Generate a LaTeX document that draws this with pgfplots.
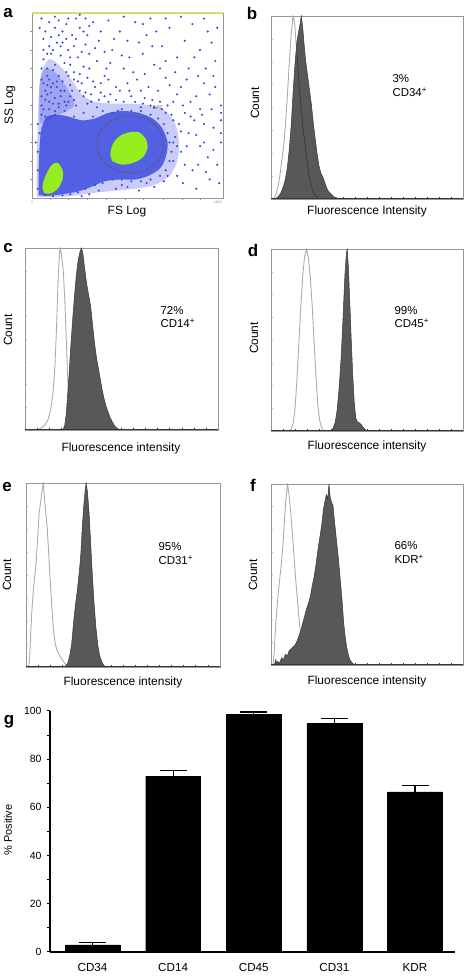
\documentclass[border=0pt]{standalone}
\usepackage{pgfplots}
\pgfplotsset{compat=1.18}
\usepackage{fontspec}
\setmainfont{Liberation Sans}
\definecolor{histfill}{RGB}{88,88,88}
\definecolor{histedge}{RGB}{55,55,55}
\definecolor{isoline}{RGB}{172,172,172}
\definecolor{boxgray}{RGB}{150,150,150}
\definecolor{dense}{RGB}{35,50,220}
\definecolor{scat}{RGB}{60,70,225}
\definecolor{gateg}{RGB}{150,238,30}
\definecolor{topgreen}{RGB}{200,225,120}
\newcommand{\lab}{\fontsize{12}{14}\selectfont}
\newcommand{\pct}{\fontsize{11.5}{14}\selectfont}
\newcommand{\letter}{\fontsize{17}{19}\selectfont\bfseries}
\pgfplotsset{
  histo/.style={scale only axis, anchor=north west,
    xmin=0, xmax=100, ymin=0, ymax=100,
    axis line style={boxgray, line width=0.9bp},
    xtick={6.25,12.5,...,95}, ytick={12.5,25,...,90},
    xticklabels={}, yticklabels={},
    tick align=inside, major tick length=1.8bp,
    xtick style={histedge, line width=0.6bp},
    ytick style={boxgray!60, line width=0.4bp},
    xtick pos=bottom, ytick pos=left},
}
\begin{document}
\begin{tikzpicture}
\path[use as bounding box] (0,0) rectangle (466bp,976bp);

%% ---------------- panel a ----------------
\begin{axis}[scale only axis, anchor=north west, at={(32bp,963bp)},
  width=191bp, height=185bp, xmin=0, xmax=100, ymin=0, ymax=100,
  axis line style={boxgray, line width=0.8bp},
  xtick={9.5,19,29,39,49,58.5,68.5,78.5,88}, ytick={10,20,...,90},
  xticklabels={}, yticklabels={}, tick align=outside, major tick length=2.5bp,
  tick style={boxgray, line width=0.6bp}, tick pos=left]
\addplot[fill=dense, fill opacity=0.25, draw=none, smooth] coordinates {
(2.5,0.5)(2.5,20)(3,40)(3.5,55)(5,68)(9,75)(14,72)(20,65)(26,56)(33,52)(42,51)(52,51)(62,50)(70,47)(75,40)(77,30)(76,20)(72,12)(64,7)(54,5)(44,4)(34,3)(24,1.5)(14,0.5)(2.5,0.5)};
\addplot[fill=dense, fill opacity=0.25, draw=none, smooth] coordinates {
(4,40)(4,62)(7,70)(12,68)(18,60)(22,50)(12,44)(4,40)};
\addplot[fill=dense, fill opacity=0.7, draw=none, smooth] coordinates {
(3.5,1.5)(3.5,15)(4,28)(5,38)(8,44)(13,45)(19,44)(26,42)(33,43)(40,46)(48,47)(56,46)(63,43)(68,38)(71,30)(70,22)(67,16)(61,12)(54,10)(46,10)(38,9)(31,6)(24,3.5)(16,2)(9,1.2)(3.5,1.5)};
\addplot[only marks, scat, mark=*, mark size=0.85bp, mark options={draw=none, fill=scat}] coordinates {
(6,48)(9,52)(12,47)(15,55)(7,58)(11,62)(18,50)(21,58)(14,66)(8,70)(5,64)(17,73)(22,68)(26,62)(10,78)(13,84)(19,80)(24,76)(6,86)(16,90)(9,95)(21,88)(28,83)(12,72)(25,92)(30,70)(27,55)(33,60)(7,53)(10,57)(13,60)(16,63)(19,66)(23,50)(8,66)(11,69)(15,77)(20,72)(6,75)(9,82)(14,88)(18,94)(23,97)(12,92)(26,79)(29,65)(31,52)(34,74)(36,57)(38,66)(4,92)(5,70)(17,58)(20,61)(24,63)(11,51)(14,49)(8,61)(27,71)(29,88)(32,95)(35,85)(22,82)(16,84)(12,98)(7,90)(10,87)(25,99)(19,97)(30,78)
(40,52)(44,60)(48,70)(52,55)(55,64)(58,78)(62,50)(66,58)(70,65)(74,52)(78,60)(82,70)(86,55)(90,62)(94,48)(42,80)(46,90)(50,85)(54,95)(60,88)(64,72)(68,82)(72,92)(76,76)(80,85)(84,94)(88,80)(92,90)(96,74)(45,47)(57,49)(68,48)(73,45)(80,46)(85,42)(90,40)(95,38)(99,35)(99,42)(99,46)(99,50)(99,30)(77,40)(82,35)(88,28)(92,22)(97,18)(78,25)(84,15)(74,30)(71,12)(79,8)(86,5)(93,10)(64,6)(56,4)(47,7)(39,70)(36,90)(62,97)(70,74)(87,66)(93,56)(51,76)(57,58)(65,90)(75,68)(83,52)(89,45)(96,60)
(3,5)(3,15)(3,25)(4,35)(5,45)(7,44)(12,45)(17,47)(22,44)(27,46)(32,44)(37,47)(42,46)(47,48)(52,47)(57,47)(62,45)(66,43)(69,40)(71,35)(72,30)(73,25)(72,20)(70,15)(67,12)(62,10)(57,9)(52,9)(47,10)(42,10)(37,8)(33,7)(28,5)(24,3)(20,2)(16,1.5)(11,1)(7,1.5)(75,33)(76,28)(74,20)(69,9)(60,8)(50,6)(44,5)(35,4)(30,2)(26,1)(74,42)(70,46)(64,49)(58,51)(34,49)(29,51)(19,52)(14,51)(9,48)(5,50)(3,40)(2,30)
(5,55)(8,56)(10,60)(12,54)(15,58)(17,52)(20,55)(22,53)(25,58)(28,57)(31,56)(35,53)(38,55)(41,56)(44,53)(48,52)(51,58)(54,52)(59,54)(63,53)(67,52)(71,50)(6,62)(9,64)(13,63)(18,68)(22,64)(25,67)(32,63)(36,62)(40,64)(46,58)(50,62)(61,60)(6,80)(8,78)(11,80)(15,82)(18,86)(20,76)(23,86)(27,90)(30,93)(33,81)(38,79)(41,73)(43,86)(47,77)(53,68)(56,84)(59,67)(63,82)(67,70)(72,61)(76,56)(79,50)(81,64)(85,76)(91,70)(94,84)(97,92)(95,66)(88,48)(83,44)(78,36)(81,28)(86,34)(90,30)(95,26)(87,18)(91,14)(80,18)(76,12)(98,8)(5,97)(14,96)(28,97)(40,96)(48,98)(58,94)(70,97)(78,98)(90,97)};
\addplot[fill=gateg, draw=none, smooth] coordinates {
(6.5,2.5)(10,2.5)(13.5,5)(16,10)(16,15)(13.5,19)(10.5,18)(8,14)(6,9)(5.5,5)(6.5,2.5)};
\addplot[fill=gateg, draw=none, smooth] coordinates {
(42,20)(47,18)(53,19)(58,22)(60.5,27)(59.5,32)(56,35.5)(51,35.5)(46,33.5)(42.5,29.5)(41,24)(42,20)};
\addplot[gray!70!black, line width=0.5bp, smooth] coordinates {
(69,29)(67.7,34.9)(63.9,40)(58.2,43.3)(51.5,44.5)(44.8,43.3)(39.1,40)(35.3,34.9)(34,29)(35.3,23.1)(39.1,18)(44.8,14.7)(51.5,13.5)(58.2,14.7)(63.9,18)(67.7,23.1)(69,29)};
\node[font=\fontsize{5}{6}\selectfont, text=gray!60!black] at (axis cs:66,49) {EPC};
\draw[topgreen, line width=1.2bp] (rel axis cs:0,1) -- (rel axis cs:1,1);
\end{axis}
\node[font=\fontsize{3.5}{4}\selectfont, text=gray] at (32bp,774bp) {0};
\node[font=\fontsize{3.5}{4}\selectfont, text=gray] at (218bp,774bp) {1023};
\node[font=\letter, anchor=base] at (8bp,958bp) {a};
\node[font=\lab, rotate=90] at (10bp,871bp) {SS Log};
\node[font=\lab] at (127bp,764bp) {FS Log};

%% ---------------- panel b ----------------
\begin{axis}[histo, at={(271bp,960bp)}, width=192bp, height=183bp]
\addplot[isoline, line width=0.9bp] coordinates {
(0,0)(1.5,0.5)(2.5,2)(3.5,6)(4.5,12)(5.5,20)(6.5,28)(7.5,40)(8.5,56)(9.5,74)(10.5,90)(11.5,100)(12.3,96)(13,86)(14,72)(15,58)(16,46)(17,36)(18,27)(19,19)(20,12)(21,7)(22,4)(23,2)(24.5,0.8)(26,0.3)(28,0)(100,0)};
\addplot[fill=histfill, draw=histedge, line width=0.5bp] coordinates {
(2,0)(3.5,1)(5,3)(6.5,7)(7.5,11)(8.5,17)(9.5,27)(10.5,40)(11.5,58)(12.5,74)(13.5,86)(14.5,92)(15.2,96)(15.8,100)(16.5,94)(17.2,85)(18,76)(19,68)(20,60)(21,52)(22,42)(23,33)(24,25)(25,18)(26,14)(27,12)(28,9)(29,6)(30,4)(31,3)(32,2)(33,1)(34.5,0.5)(36,0)} \closedcycle;
\addplot[histedge, line width=0.7bp] coordinates {
(13.5,79)(14,72)(15,58)(16,46)(17,36)(18,27)(19,19)(20,12)(21,7)(22,4)(23,2)(24.5,0.8)};
\addplot[histedge, line width=0.8bp] coordinates {(0,0.3)(100,0.3)};
\end{axis}
\node[font=\letter, anchor=base] at (252bp,956bp) {b};
\node[font=\lab, rotate=90] at (255bp,873bp) {Count};
\node[font=\lab] at (367bp,765bp) {Fluorescence Intensity};
\node[font=\pct, anchor=base west] at (389bp,893bp) {3\%};
\node[font=\pct, anchor=base west] at (389bp,879bp) {CD34\textsuperscript{+}};

%% ---------------- panel c ----------------
\begin{axis}[histo, at={(25bp,728bp)}, width=193bp, height=182bp]
\addplot[isoline, line width=0.9bp] coordinates {
(0,0)(6,0)(7.5,0.5)(9,1.5)(10.5,3)(12,6)(13.3,11)(14.5,20)(15.5,35)(16.3,55)(17,78)(17.6,92)(18.1,100)(18.8,97)(19.8,88)(20.6,72)(21.3,52)(22,32)(22.7,16)(23.4,7)(24.2,2)(25,0.5)(26,0)(100,0)};
\addplot[fill=histfill, draw=histedge, line width=0.5bp] coordinates {
(19.5,0)(20.5,2)(21.3,8)(22,18)(22.8,30)(23.6,44)(24.5,58)(25.5,72)(26.5,84)(27.5,93)(28.5,98)(29.3,100)(30,97)(31,88)(32,80)(33,74)(34,68)(35,58)(36,48)(37,40)(38,34)(39,28)(40,22)(41,17)(42,13)(43,10)(44,7)(45,5)(46,3)(47,1.5)(48.5,0.5)(50,0)} \closedcycle;
\addplot[histedge, line width=0.8bp] coordinates {(0,0.3)(100,0.3)};
\end{axis}
\node[font=\letter, anchor=base] at (8bp,723bp) {c};
\node[font=\lab, rotate=90] at (8bp,646bp) {Count};
\node[font=\lab] at (121bp,528bp) {Fluorescence intensity};
\node[font=\pct, anchor=base west] at (157bp,661bp) {72\%};
\node[font=\pct, anchor=base west] at (157bp,648bp) {CD14\textsuperscript{+}};

%% ---------------- panel d ----------------
\begin{axis}[histo, at={(271bp,727bp)}, width=192bp, height=182bp]
\addplot[isoline, line width=0.9bp] coordinates {
(0,0)(9,0)(10.5,1)(11.5,4)(12.5,12)(13.5,28)(14.5,48)(15.5,68)(16.5,85)(17.5,96)(18.5,100)(19.5,95)(20.5,84)(21.5,68)(22.5,48)(23.5,28)(24.5,13)(25.5,5)(26.5,1.5)(27.5,0)(100,0)};
\addplot[fill=histfill, draw=histedge, line width=0.5bp] coordinates {
(31.5,0)(32.5,2)(33.5,5)(34.5,12)(35.5,24)(36.5,40)(37.5,62)(38.5,86)(39.3,98)(39.7,100)(40.3,90)(41,72)(41.8,50)(42.6,30)(43.4,15)(44.2,7)(45,5)(46,4.5)(47,3.5)(48,2)(49,0.8)(50,0)} \closedcycle;
\addplot[histedge, line width=0.8bp] coordinates {(0,0.3)(100,0.3)};
\end{axis}
\node[font=\letter, anchor=base] at (253bp,719bp) {d};
\node[font=\lab, rotate=90] at (254bp,638bp) {Count};
\node[font=\lab] at (367bp,530bp) {Fluorescence intensity};
\node[font=\pct, anchor=base west] at (391bp,661bp) {99\%};
\node[font=\pct, anchor=base west] at (391bp,648bp) {CD45\textsuperscript{+}};

%% ---------------- panel e ----------------
\begin{axis}[histo, at={(26bp,493bp)}, width=194bp, height=184bp]
\addplot[isoline, line width=0.9bp] coordinates {
(0,0)(1.4,0)(1.9,5)(2.4,18)(3,30)(3.8,42)(4.6,50)(5.3,58)(6,70)(6.8,84)(7.6,90)(8.3,96)(8.9,100)(9.5,92)(10.2,84)(10.9,76)(11.6,64)(12.3,50)(13,38)(13.7,26)(14.4,18)(15.2,12)(16,9)(17,7)(18,5)(19,3.5)(20,2)(21,1)(22,0.5)(23.5,0)(100,0)};
\addplot[fill=histfill, draw=histedge, line width=0.5bp] coordinates {
(20,0)(21.5,2)(22.5,6)(23.5,12)(24.5,24)(25.5,34)(26.5,42)(27.5,52)(28.3,62)(29,76)(29.8,88)(30.5,96)(31,100)(31.7,95)(32.5,84)(33.3,68)(34.1,52)(35,36)(36,22)(37,12)(38,6)(39,3)(40,1)(41,0)} \closedcycle;
\addplot[histedge, line width=0.8bp] coordinates {(0,0.3)(100,0.3)};
\end{axis}
\node[font=\letter, anchor=base] at (7bp,484bp) {e};
\node[font=\lab, rotate=90] at (7bp,401bp) {Count};
\node[font=\lab] at (123bp,294bp) {Fluorescence intensity};
\node[font=\pct, anchor=base west] at (155bp,425bp) {95\%};
\node[font=\pct, anchor=base west] at (155bp,411bp) {CD31\textsuperscript{+}};

%% ---------------- panel f ----------------
\begin{axis}[histo, at={(271bp,492bp)}, width=192bp, height=181bp]
\addplot[isoline, line width=0.9bp] coordinates {
(0,0)(1,0)(1.6,6)(2.2,18)(3,30)(3.8,40)(4.6,48)(5.4,56)(6.2,66)(7,80)(7.8,92)(8.6,100)(9.4,94)(10.3,84)(11.2,72)(12,60)(12.8,48)(13.6,38)(14.4,28)(15.2,19)(16,12)(16.8,7)(17.6,4)(18.6,2)(19.6,0.5)(21,0)(100,0)};
\addplot[fill=histfill, draw=histedge, line width=0.5bp] coordinates {
(1.5,0)(2,1)(2.5,3)(3,0.5)(3.5,2)(4.5,1)(5.5,4)(6.5,3)(7.5,6)(8.5,5)(9.5,8)(10.5,9)(11.5,10)(12.5,11)(13.5,13)(14.5,16)(15.5,19)(16.5,23)(17.5,27)(18.5,31)(19.5,34)(20.5,38)(21.5,44)(22.5,49)(23.5,56)(24.5,64)(25.5,71)(26.5,78)(27.3,86)(28,90)(28.8,94)(29.5,92)(30.2,100)(30.8,93)(31.5,90)(32.3,88)(33,80)(34,70)(35,60)(36,48)(37,36)(37.8,24)(38.6,16)(39.4,10)(40.2,6)(41,3)(42,1.5)(43,0.5)(44.5,0)} \closedcycle;
\addplot[histedge, line width=0.8bp] coordinates {(0,0.3)(100,0.3)};
\end{axis}
\node[font=\letter, anchor=base] at (253bp,484bp) {f};
\node[font=\lab, rotate=90] at (253bp,401bp) {Count};
\node[font=\lab] at (367bp,295bp) {Fluorescence intensity};
\node[font=\pct, anchor=base west] at (391bp,426bp) {66\%};
\node[font=\pct, anchor=base west] at (391bp,412bp) {KDR\textsuperscript{+}};

%% ---------------- panel g ----------------
\begin{axis}[scale only axis, anchor=south west, at={(50bp,24bp)},
  width=405bp, height=241bp, xmin=-0.527, xmax=4.496, ymin=0, ymax=100,
  axis lines*=left, axis line style={black, line width=1.3bp},
  xtick={0,1,2,3,4}, xticklabels={CD34,CD14,CD45,CD31,KDR},
  xtick style={draw=none},
  ytick={0,20,...,100}, minor ytick={10,30,...,90},
  tick align=outside, major tick length=3bp, minor tick length=3bp,
  ytick style={black, line width=1bp}, minor tick style={black, line width=1bp},
  /pgf/number format/assume math mode=true,
  yticklabel style={font=\fontsize{10.5}{12}\selectfont, xshift=-2bp},
  xticklabel style={font=\fontsize{11.7}{13}\selectfont, yshift=-5bp},
  clip=false]
\addplot[ybar, bar width=0.68, fill=black, draw=black,
  error bars/.cd, y dir=plus, y explicit, error mark=|,
  error bar style={line width=1.2bp, black},
  error mark options={black, line width=1.2bp, mark size=13.5bp}]
  coordinates {(0,3.0) +- (0,1.1) (1,72.9) +- (0,2.3) (2,98.6) +- (0,1.0) (3,94.9) +- (0,1.9) (4,66.4) +- (0,2.6)};
\end{axis}
\node[font=\letter, anchor=base] at (9bp,251bp) {g};
\node[font=\fontsize{11}{13}\selectfont, rotate=90] at (8bp,146bp) {\% Positive};
\end{tikzpicture}
\end{document}
